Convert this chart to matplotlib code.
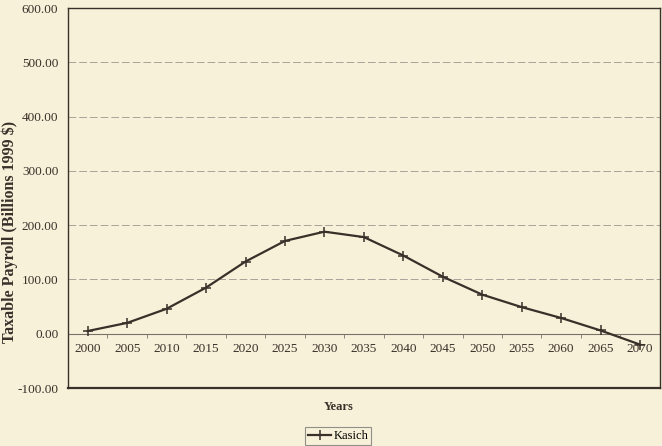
import matplotlib
matplotlib.use("Agg")
import matplotlib.pyplot as plt
from matplotlib.ticker import FormatStrFormatter, FixedLocator

years = ["2000", "2005", "2010", "2015", "2020", "2025", "2030", "2035",
         "2040", "2045", "2050", "2055", "2060", "2065", "2070"]
kasich = [5, 20, 46, 85, 133, 171, 188, 178, 144, 105, 72, 49, 29, 6, -20]
y_ticks = [-100, 0, 100, 200, 300, 400, 500, 600]

bg = "#f8f1d9"
ink = "#3a302a"
plt.rcParams["font.family"] = ["Liberation Serif", "DejaVu Serif"]

fig = plt.figure(figsize=(6.62, 4.46), dpi=100, facecolor=bg)
ax = fig.add_axes([0.1027, 0.130, 0.894, 0.852], facecolor=bg)

x = list(range(len(years)))
ax.plot(x, kasich, color=ink, lw=1.6, marker="+", markersize=7, mew=1.1, zorder=3,
        label="Kasich")

ax.set_xlim(-0.5, len(years) - 0.5)
ax.set_ylim(-100, 600)
ax.set_yticks(y_ticks)
ax.yaxis.set_major_formatter(FormatStrFormatter("%.2f"))
ax.tick_params(axis="y", direction="in", length=0, labelsize=9.5, colors=ink, pad=7)
for t in y_ticks:
    ax.axhline(t, color="#a8a398", lw=0.7, ls=(0, (8, 3)), zorder=1)

# x axis at zero
ax.spines["bottom"].set_position(("data", 0))
ax.spines["bottom"].set_visible(False)
ax.axhline(0, color="#7a726a", lw=0.8, zorder=2)
ax.set_xticks(x)
ax.set_xticklabels(years)
ax.xaxis.set_minor_locator(FixedLocator([i + 0.5 for i in range(len(years) - 1)]))
ax.tick_params(axis="x", which="major", length=0, labelsize=9.5, colors=ink, pad=7)
ax.tick_params(axis="x", which="minor", length=3, direction="out", color="#7a726a")

# frame
for s in ["left", "top", "right"]:
    ax.spines[s].set_color(ink)
    ax.spines[s].set_linewidth(1.0)
ax.axhline(-100, color=ink, lw=1.6, clip_on=False, zorder=4)

fig.text(0.014, 0.48, "Taxable Payroll (Billions 1999 $)", rotation=90,
         ha="center", va="center", fontsize=11.5, fontweight="bold", color=ink)
fig.text(0.511, 0.088, "Years", ha="center", va="center", fontsize=9,
         fontweight="bold", color=ink)

leg = fig.legend(loc="center", bbox_to_anchor=(0.511, 0.022), fontsize=9,
                 frameon=True, fancybox=False, handlelength=1.8, handletextpad=0.2,
                 borderpad=0.25, borderaxespad=0)
leg.get_frame().set_edgecolor("#777")
leg.get_frame().set_facecolor(bg)
leg.get_frame().set_linewidth(0.8)

fig.savefig("out.png", dpi=100, facecolor=bg)
